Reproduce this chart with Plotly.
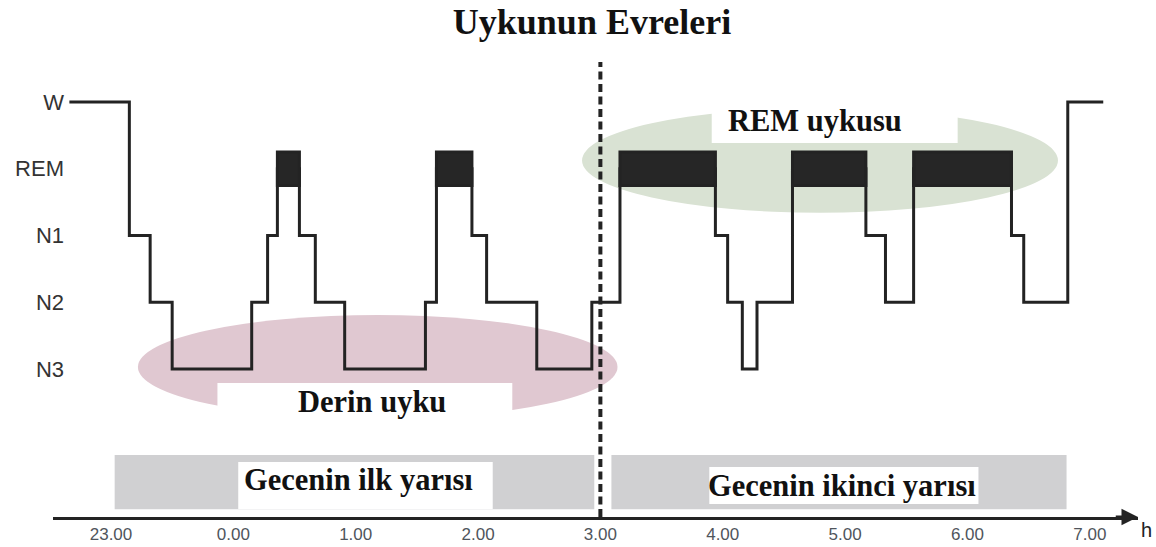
import plotly.graph_objects as go

# ---------------- data (hours after 23:00) ----------------
hour_positions = [0, 1, 2, 3, 4, 5, 6, 7, 8]
hour_labels = ["23.00", "0.00", "1.00", "2.00", "3.00", "4.00", "5.00", "6.00", "7.00"]

stage_order = ["N3", "N2", "N1", "REM", "W"]
stage_level = [0, 1, 2, 3, 4]

stage_names = ["W", "N1", "N2", "N3", "N2", "N1", "REM", "N1", "N2", "N3",
               "N2", "REM", "N1", "N2", "N3", "N2", "REM", "N1", "N2", "N3",
               "N2", "REM", "N1", "N2", "REM", "N1", "N2", "W"]
stage_start_h = [-0.34, 0.15, 0.32, 0.50, 1.15, 1.28, 1.36, 1.54, 1.67, 1.91,
                 2.57, 2.66, 2.95, 3.07, 3.48, 3.93, 4.16, 4.94, 5.04, 5.16,
                 5.28, 5.57, 6.17, 6.33, 6.56, 7.36, 7.46, 7.82]
record_end_h = 8.11

split_h = 4.0  # 3.00

half_labels = ["Gecenin ilk yarısı", "Gecenin ikinci yarısı"]
half_start_h = [0.03, 4.09]
half_end_h = [3.95, 7.81]

zone_labels = ["Derin uyku", "REM uykusu"]
zone_x0 = [0.22, 3.85]
zone_x1 = [4.14, 7.74]
zone_y0 = [-0.75, 2.34]
zone_y1 = [0.81, 3.91]
zone_colors = ["#e0c8d1", "#d9e2d3"]

# ---------------- figure ----------------
lvl = dict(zip(stage_order, stage_level))
ys = [lvl[s] for s in stage_names]
xs = stage_start_h + [record_end_h]
ys_line = ys + [ys[-1]]

LINE = "#232323"
Y_BOTTOM = -2.217
Y_TOP = 4.899
X_MIN, X_MAX = -0.474, 8.394

fig = go.Figure()

fig.add_trace(go.Scatter(
    x=xs, y=ys_line, mode="lines", line=dict(color=LINE, width=3, shape="hv"),
    hoverinfo="skip", showlegend=False))

shapes = []
for x0, x1, y0, y1, c in zip(zone_x0, zone_x1, zone_y0, zone_y1, zone_colors):
    shapes.append(dict(type="circle", xref="x", yref="y", x0=x0, x1=x1, y0=y0, y1=y1,
                       fillcolor=c, line=dict(width=0), layer="below"))

for i, s in enumerate(stage_names):
    if s == "REM":
        x0 = stage_start_h[i]
        x1 = stage_start_h[i + 1] if i + 1 < len(stage_start_h) else record_end_h
        shapes.append(dict(type="rect", xref="x", yref="y", x0=x0, x1=x1,
                           y0=lvl["REM"] - 0.25, y1=lvl["REM"] + 0.25,
                           fillcolor="#262626", line=dict(color=LINE, width=3),
                           layer="above"))

for x0, x1 in zip(half_start_h, half_end_h):
    shapes.append(dict(type="rect", xref="x", yref="y", x0=x0, x1=x1,
                       y0=-2.10, y1=-1.29, fillcolor="#d0d0d2",
                       line=dict(width=0), layer="below"))

label_boxes = [
    (0.87, 3.28, -0.85, -0.21),
    (4.91, 6.92, 3.386, 4.1),
    (1.04, 3.12, -2.097, -1.393),
    (4.89, 7.09, -2.022, -1.468),
]
for x0, x1, y0, y1 in label_boxes:
    shapes.append(dict(type="rect", xref="x", yref="y", x0=x0, x1=x1, y0=y0, y1=y1,
                       fillcolor="white", line=dict(width=0), layer="below"))

shapes.append(dict(type="line", xref="x", yref="y", x0=split_h, x1=split_h,
                   y0=Y_BOTTOM, y1=4.6, line=dict(color=LINE, width=4, dash="8px,4.5px"),
                   layer="above"))

fig.update_layout(shapes=shapes)

SERIF = "Liberation Serif, Times New Roman, serif"
text_pos = [
    ("Derin uyku", 2.137, -0.494),
    ("REM uykusu", 5.754, 3.715),
    ("Gecenin ilk yarısı", 2.023, -1.66),
    ("Gecenin ikinci yarısı", 5.975, -1.75),
]
annotations = []
for t, x, y in text_pos:
    annotations.append(dict(text="<b>" + t + "</b>", x=x, y=y, xref="x", yref="y",
                            showarrow=False, font=dict(family=SERIF, size=30.5, color="#111")))

annotations.append(dict(x=X_MAX, y=Y_BOTTOM, ax=8.20, ay=Y_BOTTOM, xref="x", yref="y",
                        axref="x", ayref="y", text="", showarrow=True, arrowhead=2,
                        arrowsize=1.1, arrowwidth=3, arrowcolor=LINE))
annotations.append(dict(text="h", x=1.008, y=-0.027, xref="paper", yref="paper",
                        xanchor="center", yanchor="middle",
                        showarrow=False, font=dict(family="Liberation Sans, Arial", size=20, color="#222")))

W, H = 1156, 547
fig.update_layout(
    annotations=annotations,
    width=W, height=H,
    margin=dict(l=53, r=18, t=42, b=30, autoexpand=False),
    paper_bgcolor="white", plot_bgcolor="white",
    title=dict(text="<b>Uykunun Evreleri</b>", x=592 / W, xanchor="center",
               y=1 - 21 / H, yanchor="middle",
               font=dict(family=SERIF, size=36, color="#111")),
    xaxis=dict(range=[X_MIN, X_MAX], tickvals=hour_positions, ticktext=hour_labels,
               showgrid=False, zeroline=False, showline=True, linewidth=3, linecolor=LINE,
               ticks="", automargin=False,
               tickfont=dict(family="Liberation Sans, Arial", size=17, color="#4f555c")),
    yaxis=dict(range=[Y_BOTTOM, Y_TOP], tickvals=stage_level, ticktext=stage_order,
               showgrid=False, zeroline=False, showline=False, ticks="", automargin=False,
               anchor="free", position=11 / 1085,
               tickfont=dict(family="Liberation Sans, Arial", size=22, color="#333")),
    showlegend=False,
)

# remove the browser's default 8px body margin so the figure fills the window exactly
fig.write_html("out.html", config={"displayModeBar": False},
               post_script="document.body.style.margin='0';")
